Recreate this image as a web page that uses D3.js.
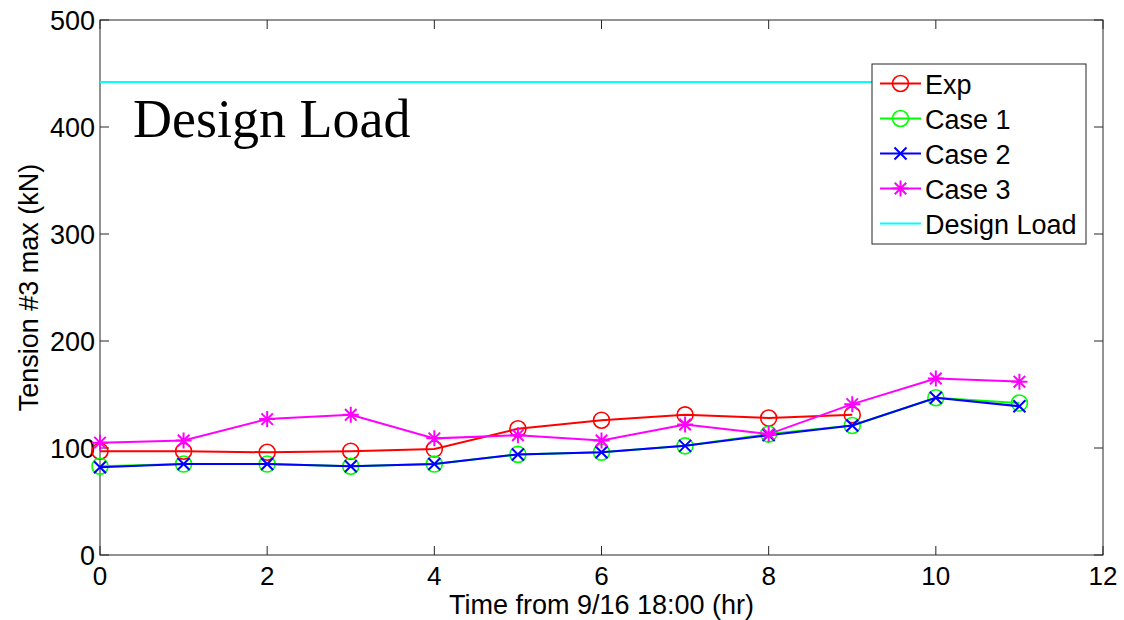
<!DOCTYPE html>
<html>
<head>
<meta charset="utf-8">
<script src="https://cdn.jsdelivr.net/npm/d3@7"></script>
<style>
  body { margin: 0; background: #fff; }
  svg { display: block; }
  text { font-family: "Liberation Sans", Arial, sans-serif; }
</style>
</head>
<body>
<div class="chart"></div>
<script>
// data
var hours = [0, 1, 2, 3, 4, 5, 6, 7, 8, 9, 10, 11];
var expVals = [97, 97, 96, 97, 99, 118, 126, 131, 128, 131];
var case1Vals = [83, 85, 85, 83, 85, 94, 96, 102, 113, 121, 147, 142];
var case2Vals = [82, 85, 85, 83, 85, 94, 96, 102, 112, 121, 147, 139];
var case3Vals = [105, 107, 127, 131, 109, 112, 107, 122, 113, 141, 165, 162];
var designLoad = 442;
var designSpan = [0, 11];
var xTicks = [0, 2, 4, 6, 8, 10, 12];
var yTicks = [0, 100, 200, 300, 400, 500];

var W = 1124, H = 620;
var margin = {left: 100, top: 20, right: 21, bottom: 65};
var fs = 27, tickFs = 26;

var svg = d3.select("div.chart").append("svg")
    .attr("width", W).attr("height", H);

var x = d3.scaleLinear().domain([0, 12]).range([margin.left, W - margin.right]);
var y = d3.scaleLinear().domain([0, 500]).range([H - margin.bottom, margin.top]);

// frame + ticks (matlab style, inward, on all four sides)
var axisCol = "#262626";
var tk = 9;
svg.append("rect")
    .attr("x", x(0)).attr("y", y(500))
    .attr("width", x(12) - x(0)).attr("height", y(0) - y(500))
    .attr("fill", "none").attr("stroke", axisCol).attr("stroke-width", 1);

xTicks.forEach(function(t){
  svg.append("line").attr("x1", x(t)).attr("x2", x(t)).attr("y1", y(0)).attr("y2", y(0) - tk).attr("stroke", axisCol);
  svg.append("line").attr("x1", x(t)).attr("x2", x(t)).attr("y1", y(500)).attr("y2", y(500) + tk).attr("stroke", axisCol);
  svg.append("text").attr("x", x(t)).attr("y", y(0) + 30)
      .attr("text-anchor", "middle").attr("font-size", tickFs).text(t);
});
yTicks.forEach(function(t){
  svg.append("line").attr("x1", x(0)).attr("x2", x(0) + tk).attr("y1", y(t)).attr("y2", y(t)).attr("stroke", axisCol);
  svg.append("line").attr("x1", x(12)).attr("x2", x(12) - tk).attr("y1", y(t)).attr("y2", y(t)).attr("stroke", axisCol);
  svg.append("text").attr("x", x(0) - 5).attr("y", y(t) + 9.5)
      .attr("text-anchor", "end").attr("font-size", fs).text(t);
});

// axis labels
svg.append("text").attr("x", (x(0) + x(12)) / 2).attr("y", 614)
    .attr("text-anchor", "middle").attr("font-size", fs)
    .text("Time from 9/16 18:00 (hr)");
svg.append("text")
    .attr("transform", "translate(38," + ((y(0) + y(500)) / 2) + ") rotate(-90)")
    .attr("text-anchor", "middle").attr("font-size", fs)
    .text("Tension #3 max (kN)");

// annotation
svg.append("text").attr("x", 133).attr("y", 137)
    .style("font-family", "'Liberation Serif', 'Times New Roman', serif")
    .attr("font-size", 54).text("Design Load");

var line = d3.line().x(function(d){ return x(d[0]); }).y(function(d){ return y(d[1]); });

function pairs(vals){
  return vals.map(function(v, i){ return [hours[i], v]; });
}

var series = [
  {name: "Exp", vals: expVals, color: "#ff0000", marker: "circle", w: 2},
  {name: "Case 1", vals: case1Vals, color: "#00ff00", marker: "circle", w: 2},
  {name: "Case 2", vals: case2Vals, color: "#0000ff", marker: "x", w: 2},
  {name: "Case 3", vals: case3Vals, color: "#ff00ff", marker: "star", w: 2}
];

function drawMarker(g, type, cx, cy, color){
  if (type === "circle") {
    g.append("circle").attr("cx", cx).attr("cy", cy).attr("r", 8)
        .attr("fill", "none").attr("stroke", color).attr("stroke-width", 1.6);
  } else if (type === "x") {
    var s = 6;
    g.append("path").attr("d", "M" + (cx - s) + "," + (cy - s) + "L" + (cx + s) + "," + (cy + s) +
        "M" + (cx - s) + "," + (cy + s) + "L" + (cx + s) + "," + (cy - s))
        .attr("stroke", color).attr("stroke-width", 2);
  } else if (type === "star") {
    var r = 8, d = r * 0.72;
    g.append("path").attr("d",
        "M" + cx + "," + (cy - r) + "L" + cx + "," + (cy + r) +
        "M" + (cx - r) + "," + cy + "L" + (cx + r) + "," + cy +
        "M" + (cx - d) + "," + (cy - d) + "L" + (cx + d) + "," + (cy + d) +
        "M" + (cx - d) + "," + (cy + d) + "L" + (cx + d) + "," + (cy - d))
        .attr("stroke", color).attr("stroke-width", 2);
  }
}

var plot = svg.append("g");
series.forEach(function(s){
  var pts = pairs(s.vals);
  plot.append("path").datum(pts).attr("d", line)
      .attr("fill", "none").attr("stroke", s.color).attr("stroke-width", s.w);
  pts.forEach(function(p){ drawMarker(plot, s.marker, x(p[0]), y(p[1]), s.color); });
});

plot.append("line")
    .attr("x1", x(designSpan[0])).attr("x2", x(designSpan[1]))
    .attr("y1", y(designLoad)).attr("y2", y(designLoad))
    .attr("stroke", "#00ffff").attr("stroke-width", 2);

// legend
var lg = svg.append("g");
lg.append("rect").attr("x", 872).attr("y", 64).attr("width", 214).attr("height", 180)
    .attr("fill", "#fff").attr("stroke", axisCol).attr("stroke-width", 1);
var legendItems = series.concat([{name: "Design Load", color: "#00ffff", marker: null}]);
legendItems.forEach(function(s, i){
  var cy = 83.5 + i * 35;
  lg.append("line").attr("x1", 880).attr("x2", 921).attr("y1", cy).attr("y2", cy)
      .attr("stroke", s.color).attr("stroke-width", 2);
  if (s.marker) drawMarker(lg, s.marker, 900.5, cy, s.color);
  lg.append("text").attr("x", 925).attr("y", cy + 10).attr("font-size", fs).text(s.name);
});
</script>
</body>
</html>
